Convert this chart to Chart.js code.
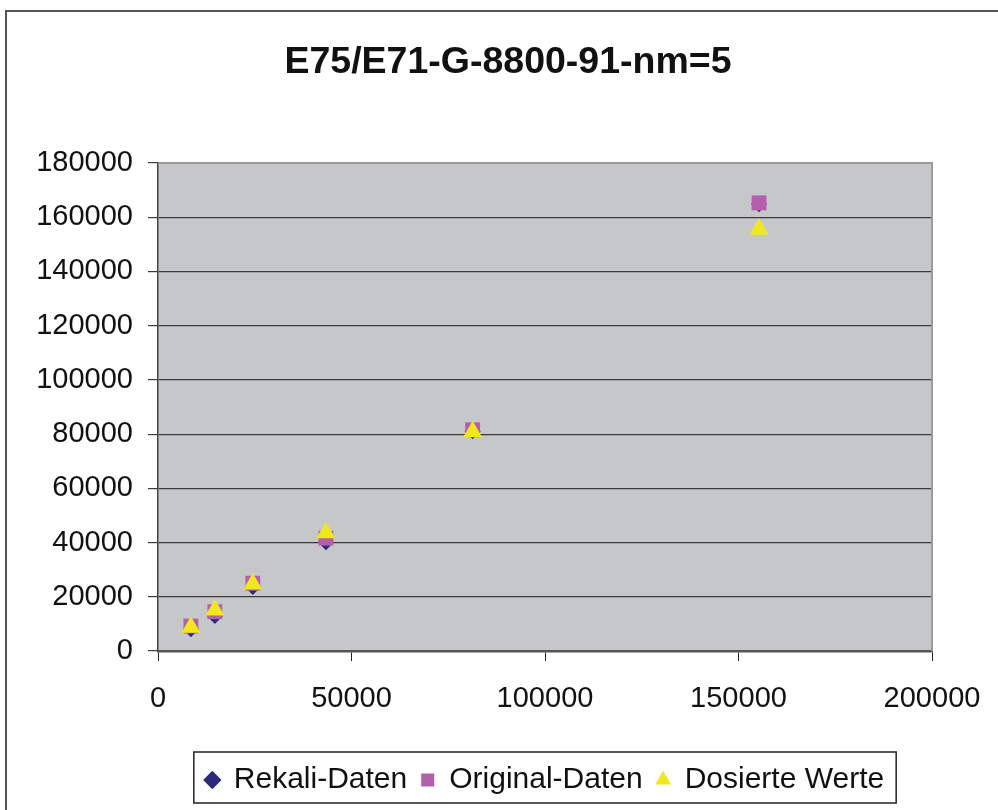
<!DOCTYPE html>
<html>
<head>
<meta charset="utf-8">
<script src="https://cdn.jsdelivr.net/npm/chart.js@4/dist/chart.umd.min.js"></script>
<style>
html,body{margin:0;padding:0;background:#fff;}
#wrap{width:998px;height:810px;position:relative;}
</style>
</head>
<body>
<div id="wrap"><canvas id="c" width="998" height="810"></canvas></div>
<script>
const titleText = 'E75/E71-G-8800-91-nm=5';
const seriesNames = ['Rekali-Daten', 'Original-Daten', 'Dosierte Werte'];
const xValues = [8500, 14700, 24500, 43400, 81300, 155300];
const rekaliY = [8000, 12900, 23600, 40100, 81100, 164800];
const originalY = [9200, 14500, 25000, 41600, 81600, 165300];
const dosiertY = [8800, 15100, 24700, 43600, 80900, 155600];
const xTicks = [0, 50000, 100000, 150000, 200000];
const yTicks = [0, 20000, 40000, 60000, 80000, 100000, 120000, 140000, 160000, 180000];

const toPts = (ys) => ys.map((y, i) => ({x: xValues[i], y: y}));
const FONT = "'Liberation Sans', Arial, sans-serif";

const bgPlugin = {
  id: 'bg',
  afterLayout(chart) {
    const a = chart.chartArea;
    const lg = chart.legend;
    if (lg) {
      const s = (a.left + a.right) / 2 - (lg.left + lg.right) / 2;
      lg.left += s; lg.right += s;
    }
    const t = chart.titleBlock;
    if (t) {
      const s2 = 508 - (t.left + t.right) / 2;
      t.left += s2; t.right += s2;
    }
  },
  beforeDraw(chart) {
    const {ctx, chartArea: a} = chart;
    ctx.save();
    ctx.fillStyle = '#ffffff';
    ctx.fillRect(0, 0, chart.width, chart.height);
    ctx.fillStyle = '#c6c7c9';
    ctx.fillRect(a.left, a.top, a.right - a.left, a.bottom - a.top);
    ctx.strokeStyle = '#555';
    ctx.lineWidth = 2;
    ctx.strokeRect(6, 11, chart.width + 10, chart.height + 10);
    ctx.restore();
  },
  beforeDatasetsDraw(chart) {
    const {ctx, chartArea: a} = chart;
    ctx.save();
    ctx.strokeStyle = '#9a9a9a';
    ctx.lineWidth = 2;
    ctx.beginPath();
    ctx.moveTo(a.left, a.top);
    ctx.lineTo(a.right, a.top);
    ctx.lineTo(a.right, a.bottom);
    ctx.stroke();
    ctx.restore();
  },
  afterDraw(chart) {
    const lg = chart.legend;
    if (!lg || !lg.legendHitBoxes || !lg.legendHitBoxes.length) return;
    const boxes = lg.legendHitBoxes;
    let l = Infinity, r = -Infinity, t = Infinity, b = -Infinity;
    boxes.forEach(h => { l = Math.min(l, h.left); r = Math.max(r, h.left + h.width); t = Math.min(t, h.top); b = Math.max(b, h.top + h.height); });
    const ctx = chart.ctx;
    ctx.save();
    ctx.strokeStyle = '#222';
    ctx.lineWidth = 1.5;
    ctx.strokeRect(l - 12, t - 13, (r - l) + 24, (b - t) + 21);
    ctx.restore();
  }
};

new Chart(document.getElementById('c'), {
  type: 'scatter',
  data: {
    datasets: [
      { label: seriesNames[0], data: toPts(rekaliY), pointStyle: 'rectRot', pointRadius: 8, pointHoverRadius: 8,
        backgroundColor: '#2e2a7a', borderColor: '#2e2a7a', borderWidth: 0, order: 3 },
      { label: seriesNames[1], data: toPts(originalY), pointStyle: 'rect', pointRadius: 10.5, pointHoverRadius: 10.5,
        backgroundColor: '#b35fab', borderColor: '#b35fab', borderWidth: 0, order: 2 },
      { label: seriesNames[2], data: toPts(dosiertY), pointStyle: 'triangle', pointRadius: 11, pointHoverRadius: 11,
        backgroundColor: '#f0e81e', borderColor: '#f0e81e', borderWidth: 0, order: 1 }
    ]
  },
  options: {
    responsive: false,
    animation: false,
    events: [],
    layout: { padding: { left: 20, right: 66, top: 0, bottom: 5 } },
    plugins: {
      tooltip: { enabled: false },
      title: {
        display: true, text: titleText, color: '#111',
        font: { family: FONT, size: 37.5, weight: 'bold' },
        padding: { top: 40, bottom: 78 }
      },
      legend: {
        position: 'bottom',
        labels: {
          usePointStyle: true, boxWidth: 13, boxHeight: 13, color: '#111',
          font: { family: FONT, size: 30 }, padding: 14,
          sort: (a, b) => a.datasetIndex - b.datasetIndex
        }
      }
    },
    scales: {
      x: {
        type: 'linear', min: 0, max: 200000,
        afterBuildTicks: (s) => { s.ticks = xTicks.map(v => ({value: v})); },
        afterFit: (s) => { s.height = 100; s.paddingLeft = 0; s.paddingRight = 0; },
        ticks: { color: '#111', font: { family: FONT, size: 29 }, padding: 20.6, maxRotation: 0, callback: (v) => String(v) },
        grid: { drawOnChartArea: false, drawTicks: true, tickLength: 10, color: '#222', lineWidth: 1 },
        border: { display: true, color: '#555', width: 2.5 }
      },
      y: {
        type: 'linear', min: 0, max: 180000,
        afterBuildTicks: (s) => { s.ticks = yTicks.map(v => ({value: v})); },
        afterFit: (s) => { s.width = 138; },
        ticks: { color: '#111', font: { family: FONT, size: 29 }, padding: 15, callback: (v) => String(v) },
        grid: { color: '#3a3a3a', lineWidth: 1.2, tickLength: 10 },
        border: { display: true, color: '#444', width: 1.5 }
      }
    }
  },
  plugins: [bgPlugin]
});
</script>
</body>
</html>
